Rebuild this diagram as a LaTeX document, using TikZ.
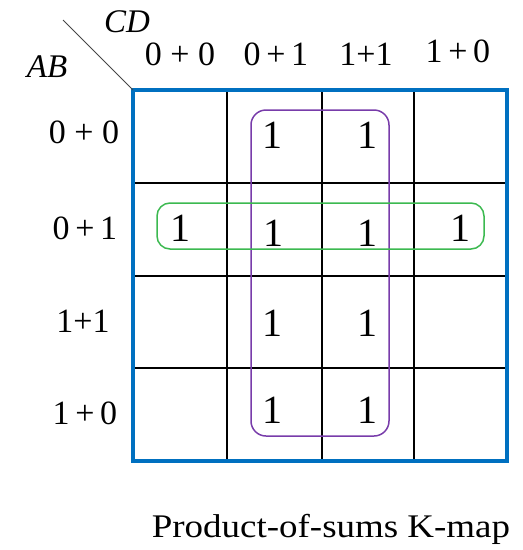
\documentclass[tikz,border=0pt]{standalone}
\usepackage{fontspec}
\setmainfont{Liberation Serif}
\definecolor{kblue}{RGB}{0,112,192}
\definecolor{kpurple}{RGB}{120,60,170}
\definecolor{kgreen}{RGB}{60,185,80}
\definecolor{kgray}{RGB}{70,70,70}
\begin{document}
\begin{tikzpicture}[x=1pt,y=-1pt,
  lbl/.style={font=\fontsize{34}{40}\selectfont, inner sep=0pt},
  one/.style={font=\fontsize{40}{46}\selectfont, inner sep=0pt},
  var/.style={font=\fontsize{33}{38}\selectfont\itshape, inner sep=0pt},
  captxt/.style={font=\fontsize{33}{38}\selectfont, inner sep=0pt, anchor=base},
  gridline/.style={black, line width=1.5pt},
  border/.style={kblue, line width=3.5pt},
  grp/.style={line width=1.5pt, rounded corners=15pt}]
\useasboundingbox (0,0) rectangle (523,550);
% grid coordinates
\coordinate (tl) at (133,90);
\coordinate (br) at (507,461);
\coordinate (corner) at (63,20);
% inner grid lines
\foreach \x in {227,322,414} \draw[gridline] (\x,90) -- (\x,461);
\foreach \y in {183,276,368} \draw[gridline] (133,\y) -- (507,\y);
% groups
\draw[grp, kpurple] (251,110) rectangle (389,436);
\draw[grp, kgreen, rounded corners=13pt] (157,203) rectangle (484,249);
% border
\draw[border] (tl) rectangle (br);
% diagonal
\draw[kgray, line width=1pt] (corner) -- (tl);
% variable labels
\node[var] (cd) at (127,22) {CD};
\node[var] (ab) at (47,67) {AB};
% column headers
\node[lbl] (c0) at (180,54) {0 + 0};
\node[lbl] (c1) at (276,54) {0\,+\,1};
\node[lbl] (c2) at (366,54) {1+1};
\node[lbl] (c3) at (458,51.5) {1\,+\,0};
% row headers
\node[lbl] (r0) at (84,132) {0 + 0};
\node[lbl] (r1) at (85,228) {0\,+\,1};
\node[lbl] (r2) at (83,321) {1+1};
\node[lbl] (r3) at (85,413) {1\,+\,0};
% ones
\node[one] (m01) at (272,135) {1};
\node[one] (m02) at (367,135) {1};
\node[one] (m10) at (180,228) {1};
\node[one] (m11) at (273,233) {1};
\node[one] (m12) at (367,233) {1};
\node[one] (m13) at (460,228) {1};
\node[one] (m21) at (272,323) {1};
\node[one] (m22) at (367,323) {1};
\node[one] (m31) at (272,410) {1};
\node[one] (m32) at (367,410) {1};
% caption
\node[captxt] (caption) at (331,537) {\scalebox{1.12}[1]{Product-of-sums K-map}};
\end{tikzpicture}
\end{document}
